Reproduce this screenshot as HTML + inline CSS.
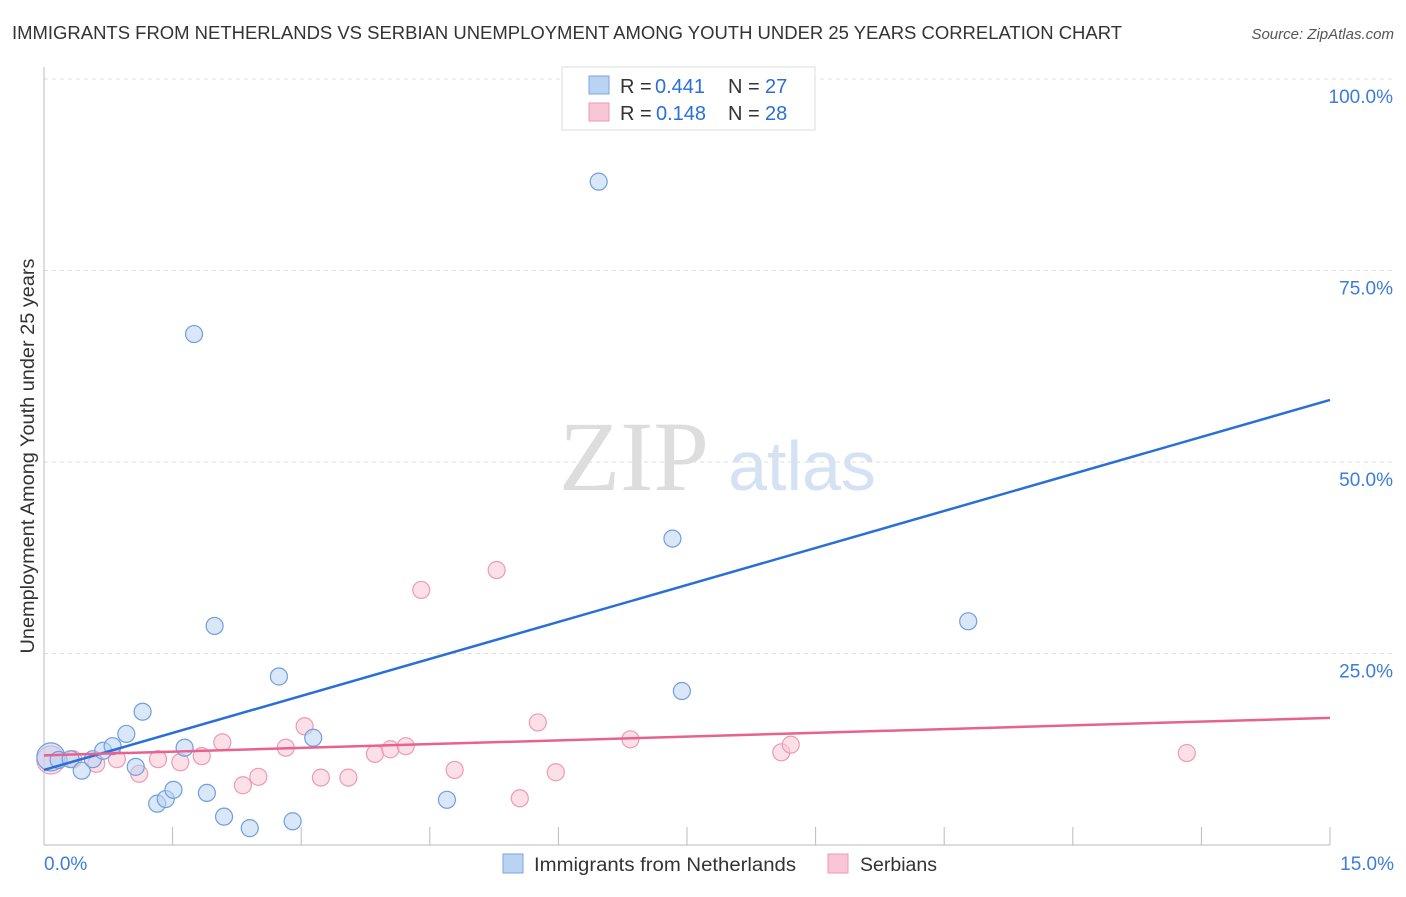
<!DOCTYPE html>
<html><head><meta charset="utf-8"><style>
body{margin:0;background:#fff;}
</style></head><body>
<svg id="c" width="1406" height="892" font-family="Liberation Sans, sans-serif">
<text x="12" y="39" font-size="18" fill="#333" textLength="1110" lengthAdjust="spacingAndGlyphs">IMMIGRANTS FROM NETHERLANDS VS SERBIAN UNEMPLOYMENT AMONG YOUTH UNDER 25 YEARS CORRELATION CHART</text>
<text x="1394" y="39" font-size="15" fill="#555" text-anchor="end" font-style="italic">Source: ZipAtlas.com</text>
<text x="634" y="490" font-size="100" fill="#ddd" text-anchor="middle" style="font-family:'Liberation Serif',serif">ZIP</text>
<text x="802" y="490" font-size="70" fill="#d4e2f4" text-anchor="middle">atlas</text>
<text transform="translate(34,456) rotate(-90)" font-size="19" fill="#333" text-anchor="middle" textLength="395" lengthAdjust="spacingAndGlyphs">Unemployment Among Youth under 25 years</text>
<g id="grid"></g><g id="marks"></g>
<g>
<rect x="562" y="67" width="253" height="63" fill="#fff" stroke="#ddd"/>
<rect x="589" y="76" width="20" height="18" fill="#b9d3f3" stroke="#7aa6e0"/>
<rect x="589" y="103" width="20" height="18" fill="#f9c6d6" stroke="#ec9ab5"/>
<text x="620" y="93" font-size="20" fill="#333">R =</text><text x="655" y="93" font-size="20" fill="#2a6fd8">0.441</text>
<text x="728" y="93" font-size="20" fill="#333">N =</text><text x="765" y="93" font-size="20" fill="#2a6fd8">27</text>
<text x="620" y="120" font-size="20" fill="#333">R =</text><text x="656" y="120" font-size="20" fill="#2a6fd8">0.148</text>
<text x="728" y="120" font-size="20" fill="#333">N =</text><text x="765" y="120" font-size="20" fill="#2a6fd8">28</text>
</g>
<g>
<rect x="503" y="854" width="20" height="19" fill="#b9d3f3" stroke="#7aa6e0"/>
<text x="534" y="871" font-size="19" fill="#333" textLength="262" lengthAdjust="spacingAndGlyphs">Immigrants from Netherlands</text>
<rect x="828" y="854" width="20" height="19" fill="#f9c6d6" stroke="#ec9ab5"/>
<text x="860" y="871" font-size="19" fill="#333" textLength="77" lengthAdjust="spacingAndGlyphs">Serbians</text>
</g>
</svg>
<script>
const yTicks=[100,75,50,25];
const blueX=[0.08,0.17,0.31,0.44,0.57,0.69,0.80,0.96,1.15,1.07,1.32,1.42,1.51,1.64,1.75,1.90,1.99,2.10,2.40,2.74,2.90,3.14,4.70,6.47,7.33,7.44,10.78];
const blueY=[11.5,11.1,11.2,9.7,11.2,12.3,12.9,14.5,17.4,10.2,5.4,6.0,7.2,12.7,66.7,6.8,28.6,3.7,2.2,22.0,3.1,14.0,5.9,86.6,40.0,20.1,29.2];
const pinkX=[0.08,0.34,0.61,0.85,1.11,1.33,1.59,1.84,2.08,2.32,2.50,2.82,3.04,3.23,3.55,3.86,4.04,4.22,4.40,4.79,5.28,5.55,5.76,5.97,6.84,8.60,8.71,13.33];
const pinkY=[11.1,11.2,10.6,11.2,9.3,11.2,10.8,11.6,13.4,7.8,8.9,12.7,15.5,8.8,8.8,11.9,12.5,12.9,33.3,9.8,35.9,6.1,16.0,9.5,13.8,12.1,13.1,12.0];
const blueTrend=[9.8,58.1];
const pinkTrend=[11.7,16.6];
const NS="http://www.w3.org/2000/svg";
const sx=v=>44+v/15*1286, sy=v=>845-v/100*766;
function mk(tag,attrs,parent){const e=document.createElementNS(NS,tag);for(const k in attrs)e.setAttribute(k,attrs[k]);parent.appendChild(e);return e;}
const g=document.getElementById('grid'), m=document.getElementById('marks');
yTicks.forEach(t=>{
 const l=mk('line',{x1:44,x2:1394,y1:sy(t),y2:sy(t),stroke:'#ddd','stroke-dasharray':'4,4'},g);
 
 
 const tx=mk('text',{x:1393,y:sy(t)+24,'font-size':19,fill:'#3b7dd8','text-anchor':'end'},g);tx.textContent=t.toFixed(1)+'%';
 
 
});
mk('line',{x1:44,x2:44,y1:67,y2:845,stroke:'#bbb'},g);
mk('line',{x1:44,x2:1330,y1:845,y2:845,stroke:'#bbb'},g);
for(let i=1;i<=10;i++){const x=sx(i*1.5);const t=mk('line',{x1:x,x2:x,y1:827,y2:845,stroke:'#bbb'},g);
 
 }
const x0=mk('text',{x:44,y:870,'font-size':19,fill:'#3b7dd8'},g);x0.textContent='0.0%';


const x1=mk('text',{x:1394,y:870,'font-size':19,fill:'#3b7dd8','text-anchor':'end'},g);x1.textContent='15.0%';


function pts(X,Y,fill,stroke,name){X.forEach((x,i)=>{const r=i==0?14:8.5;const c=mk('circle',{cx:sx(x),cy:sy(Y[i]),r:r,fill:fill,'fill-opacity':0.55,stroke:stroke,'stroke-width':1.2},m);
 
 });}
pts(pinkX,pinkY,'#f9c6d6','#ec9ab5','serbians-point');
pts(blueX,blueY,'#b9d3f3','#6f9fde','netherlands-point');
const bl=mk('line',{x1:sx(0),x2:sx(15),y1:sy(blueTrend[0]),y2:sy(blueTrend[1]),stroke:'#2a6fd8','stroke-width':2.5},m);


const pl=mk('line',{x1:sx(0),x2:sx(15),y1:sy(pinkTrend[0]),y2:sy(pinkTrend[1]),stroke:'#e8628f','stroke-width':2.5},m);


</script>
</body></html>
